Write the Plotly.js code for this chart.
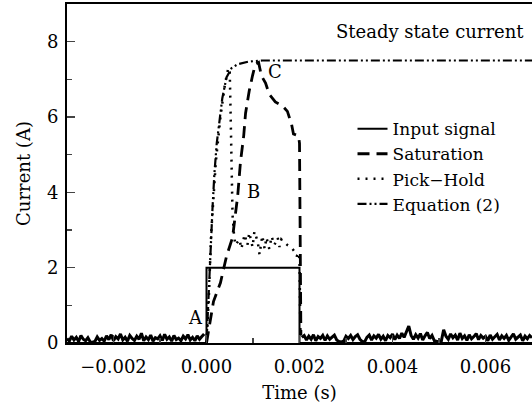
<!DOCTYPE html>
<html>
<head>
<meta charset="utf-8">
<script src="https://cdn.plot.ly/plotly-3.0.1.min.js"></script>
<style>html,body{margin:0;padding:0;background:#fff;}#chart{width:532px;height:410px;}</style>
</head>
<body>
<div id="chart"></div>
<script>
// ---------- data ----------
var inputTime   = [-0.003, 0, 0, 0.002, 0.002, 0.007];
var inputAmp    = [0, 0, 2, 2, 0, 0];

var satTime = [0, 0.000065, 0.00015, 0.0003, 0.00043, 0.00056, 0.00062, 0.00067, 0.00073, 0.0008, 0.00084, 0.00092, 0.00099, 0.00105, 0.00112, 0.00118, 0.00127, 0.00135, 0.00148, 0.00163, 0.00174, 0.00183, 0.00187, 0.00198, 0.002, 0.00201, 0.00203];
var satAmp  = [0, 0.5, 1.1, 1.6, 2.3, 2.8, 3.4, 3.9, 4.8, 5.5, 6.1, 6.7, 7.1, 7.4, 7.45, 7.1, 6.9, 6.6, 6.4, 6.3, 6.15, 5.8, 5.55, 5.5, 5.3, 2.5, 0.2];

var phTime = [0, 0.00005, 0.0001, 0.00015, 0.0002, 0.0003, 0.0004, 0.00047, 0.0005, 0.00052, 0.00054, 0.00056, 0.00059, 0.00062,
              0.00071, 0.00075, 0.00082, 0.00088, 0.00092, 0.00099, 0.00103, 0.0011, 0.00114, 0.0012, 0.00125, 0.00129, 0.00135, 0.0014,
              0.00146, 0.00153, 0.00157, 0.00161, 0.00168, 0.00174, 0.00183, 0.00189, 0.00194, 0.00198, 0.002, 0.00202];
var phAmp  = [0, 1.2, 2.9, 4.0, 4.8, 6.0, 6.9, 7.3, 7.2, 6.0, 4.5, 3.4, 2.9, 2.6,
              2.75, 2.5, 2.88, 2.6, 2.93, 2.55, 2.96, 2.7, 2.35, 2.85, 2.5, 2.8, 2.5, 2.83,
              2.6, 2.8, 2.55, 2.75, 2.67, 2.6, 2.53, 2.43, 2.3, 2.4, 2.2, 0.2];

var eqTime = [0, 0.00003, 0.000065, 0.0001, 0.00013, 0.00017, 0.00022, 0.00028, 0.00034, 0.00043, 0.00054, 0.00067, 0.0009, 0.0012, 0.007];
var eqAmp  = [0, 0.9, 2.0, 3.0, 3.6, 4.5, 5.3, 5.9, 6.5, 7.05, 7.3, 7.4, 7.47, 7.5, 7.5];

// measured baseline noise, sampled every 0.00005 s
var noiseStep = 0.00005;
var preNoiseStart = -0.003;
var preNoise = [0.12,0.05,0.18,0.08,0.15,0.04,0.2,0.1,0.06,0.14,0.03,0.02,0.04,0.16,0.07,0.12,0.05,0.19,0.09,0.22,
                0.06,0.17,0.11,0.24,0.08,0.15,0.05,0.2,0.12,0.07,0.18,0.1,0.26,0.06,0.16,0.09,0.21,0.05,0.14,0.11,
                0.19,0.07,0.23,0.1,0.16,0.05,0.2,0.09,0.13,0.06,0.18,0.11,0.22,0.08,0.15,0.06,0.19,0.1,0.17,0.24];
var postNoiseStart = 0.00205;
var postNoise = [0.15,0.2,0.08,0.18,0.1,0.22,0.06,0.17,0.12,0.2,
                 0.07,0.19,0.1,0.16,0.21,0.08,0.04,0.03,0.05,0.18,
                 0.12,0.2,0.09,0.17,0.22,0.1,0.04,0.03,0.15,0.21,
                 0.08,0.19,0.13,0.23,0.1,0.18,0.06,0.2,0.14,0.24,
                 0.09,0.21,0.12,0.26,0.15,0.3,0.45,0.2,0.1,0.22,
                 0.13,0.25,0.08,0.19,0.28,0.12,0.2,0.06,0.04,0.03,
                 0.05,0.35,0.18,0.1,0.24,0.14,0.21,0.08,0.26,0.12,
                 0.19,0.07,0.22,0.11,0.17,0.25,0.09,0.2,0.13,0.18,
                 0.06,0.21,0.1,0.16,0.23,0.08,0.19,0.12,0.2,0.07,
                 0.17,0.24,0.1,0.15,0.21,0.06,0.18,0.11,0.2,0.14];

var xTickVals = [-0.002, 0, 0.002, 0.004, 0.006];
var xTickText = ['\u22120.002', '0.000', '0.002', '0.004', '0.006'];
var yTickVals = [0, 2, 4, 6, 8];

var labelText = ['A', 'B', 'C', 'Steady state current'];
var labelX    = [-0.00024, 0.00101, 0.00148, 0.0048];
var labelY    = [0.67, 4.03, 7.2, 8.27];

// ---------- build ----------
function grid(start, n) { var a = []; for (var i = 0; i < n; i++) a.push(start + i * noiseStep); return a; }
var preT = grid(preNoiseStart, preNoise.length);
var postT = grid(postNoiseStart, postNoise.length);

var font = 'DejaVu Serif, Liberation Serif, serif';
var traces = [
  {x: preT.concat([null]).concat(postT), y: preNoise.concat([null]).concat(postNoise), mode: 'lines',
   line: {color: '#000', width: 3}, showlegend: false, hoverinfo: 'skip', connectgaps: false},
  {x: inputTime, y: inputAmp, mode: 'lines', name: 'Input signal', line: {color: '#000', width: 2}},
  {x: satTime, y: satAmp, mode: 'lines', name: 'Saturation', line: {color: '#000', width: 2.8, dash: '12px,7px'}},
  {x: phTime, y: phAmp, mode: 'lines', name: 'Pick\u2212Hold', line: {color: '#000', width: 2.5, dash: '2px,6px'}},
  {x: eqTime, y: eqAmp, mode: 'lines', name: 'Equation (2)', line: {color: '#000', width: 2.2, dash: '9px,3px,2px,3px,2px,3px'}}
];

var annotations = labelText.map(function (t, i) {
  return {x: labelX[i], y: labelY[i], xref: 'x', yref: 'y', text: t, showarrow: false,
          font: {family: font, size: 18, color: '#000'}, xanchor: 'center', yanchor: 'middle'};
});

var layout = {
  width: 532, height: 410,
  margin: {l: 67, r: 0, t: 4, b: 67},
  paper_bgcolor: '#fff', plot_bgcolor: '#fff',
  font: {family: font, size: 18, color: '#000'},
  showlegend: true,
  legend: {x: 0.614, y: 0.684, xanchor: 'left', yanchor: 'top', bgcolor: 'rgba(255,255,255,0)',
           font: {family: font, size: 17, color: '#000'}, tracegroupgap: 0},
  xaxis: {range: [-0.003, 0.007], tickvals: xTickVals, ticktext: xTickText, ticks: 'inside', ticklen: 8, tickwidth: 1.5,
          minor: {dtick: 0.001, ticks: 'inside', ticklen: 5, tickwidth: 1.5},
          showline: true, linewidth: 2, linecolor: '#000', mirror: true, showgrid: false, zeroline: false,
          ticklabelstandoff: 6,
          title: {text: 'Time (s)', font: {family: font, size: 18}, standoff: 11}},
  yaxis: {range: [0, 9], tickvals: yTickVals, ticks: 'inside', ticklen: 8, tickwidth: 1.5,
          minor: {dtick: 1, ticks: 'inside', ticklen: 5, tickwidth: 1.5},
          showline: true, linewidth: 2, linecolor: '#000', showgrid: false, zeroline: false,
          ticklabelstandoff: 3,
          title: {text: 'Current (A)', font: {family: font, size: 18}, standoff: 12}},
  annotations: annotations
};

Plotly.newPlot('chart', traces, layout, {displayModeBar: false, staticPlot: true});
</script>
</body>
</html>
